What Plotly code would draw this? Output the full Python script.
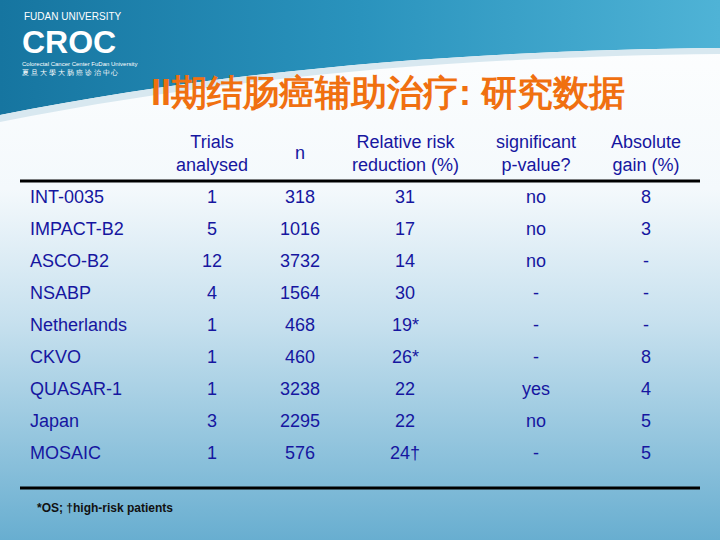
import plotly.graph_objects as go
import base64

names = ["INT-0035","IMPACT-B2","ASCO-B2","NSABP","Netherlands","CKVO","QUASAR-1","Japan","MOSAIC"]
trials = ["1","5","12","4","1","1","1","3","1"]
n_pat = ["318","1016","3732","1564","468","460","3238","2295","576"]
rrr = ["31","17","14","30","19*","26*","22","22","24†"]
sig = ["no","no","no","-","-","-","yes","no","-"]
gain = ["8","3","-","-","-","8","4","5","5"]
headers = ["Trials<br>analysed","n","Relative risk<br>reduction (%)","significant<br>p-value?","Absolute<br>gain (%)"]

svg = '''<svg xmlns="http://www.w3.org/2000/svg" width="720" height="540">
<defs>
<linearGradient id="bg" x1="0" y1="0" x2="0" y2="1">
<stop offset="0" stop-color="#ffffff"/><stop offset="0.35" stop-color="#f4f9fc"/>
<stop offset="0.6" stop-color="#c6e0ee"/><stop offset="1" stop-color="#68aed0"/></linearGradient>
<linearGradient id="bn" x1="0" y1="0" x2="1" y2="0">
<stop offset="0" stop-color="#1675a0"/><stop offset="0.5" stop-color="#2a93bd"/><stop offset="1" stop-color="#4fb3d6"/></linearGradient>
</defs>
<rect width="720" height="540" fill="url(#bg)"/>
<path d="M0,0 L720,0 L720,48 C500,50 250,65 0,115 Z" fill="url(#bn)"/>
<path d="M0,115 C250,65 500,50 720,48 L720,54 C500,56 250,72 0,122 Z" fill="#d8e8f0"/>
</svg>'''
uri = "data:image/svg+xml;base64," + base64.b64encode(svg.encode()).decode()

fig = go.Figure()
fig.add_layout_image(source=uri, xref="x", yref="y", x=0, y=0, sizex=720, sizey=540,
                     sizing="stretch", layer="below", xanchor="left", yanchor="top")
col = "#1616a0"
F = "Liberation Sans, Arial, sans-serif"
ann = []
def A(x, y, t, size=18, color=col, xa="center", **kw):
    ann.append(dict(x=x, y=y, text=t, showarrow=False, xanchor=xa, yanchor="middle",
                    font=dict(family=F, size=size, color=color), **kw))
# logo
A(22, 16, "FUDAN UNIVERSITY", 10, "white", "left")
A(20, 42, "<b>CROC</b>", 32, "white", "left")
A(20, 64, "Colorectal Cancer Center FuDan University", 6, "white", "left")
A(20, 73, "夏 旦 大 學 大 肠 癌 诊 治 中 心", 7, "white", "left")
# title
A(388, 92, "<b>II期结肠癌辅助治疗: 研究数据</b>", 36, "#f07010")
xs = [212, 300, 405, 536, 646]
for x, h in zip(xs, headers):
    A(x, 153, h, 18)
cols = [trials, n_pat, rrr, sig, gain]
for i, nm in enumerate(names):
    y = 197 + 32 * i
    A(28, y, nm, 18, col, "left")
    for x, c in zip(xs, cols):
        A(x, y, c[i], 18)
A(35, 508, "<b>*OS; †high-risk patients</b>", 12, "#111111", "left")
fig.update_layout(annotations=ann, width=720, height=540, margin=dict(l=0, r=0, t=0, b=0),
                  xaxis=dict(range=[0, 720], visible=False), yaxis=dict(range=[540, 0], visible=False),
                  plot_bgcolor="white", paper_bgcolor="white", showlegend=False,
                  shapes=[dict(type="line", x0=20, x1=700, y0=181, y1=181, line=dict(color="black", width=3)),
                          dict(type="line", x0=20, x1=700, y0=488, y1=488, line=dict(color="black", width=3))])
fig.write_html("out.html", config={"displayModeBar": False},
               post_script="document.body.style.margin='0';document.body.style.overflow='hidden';")
